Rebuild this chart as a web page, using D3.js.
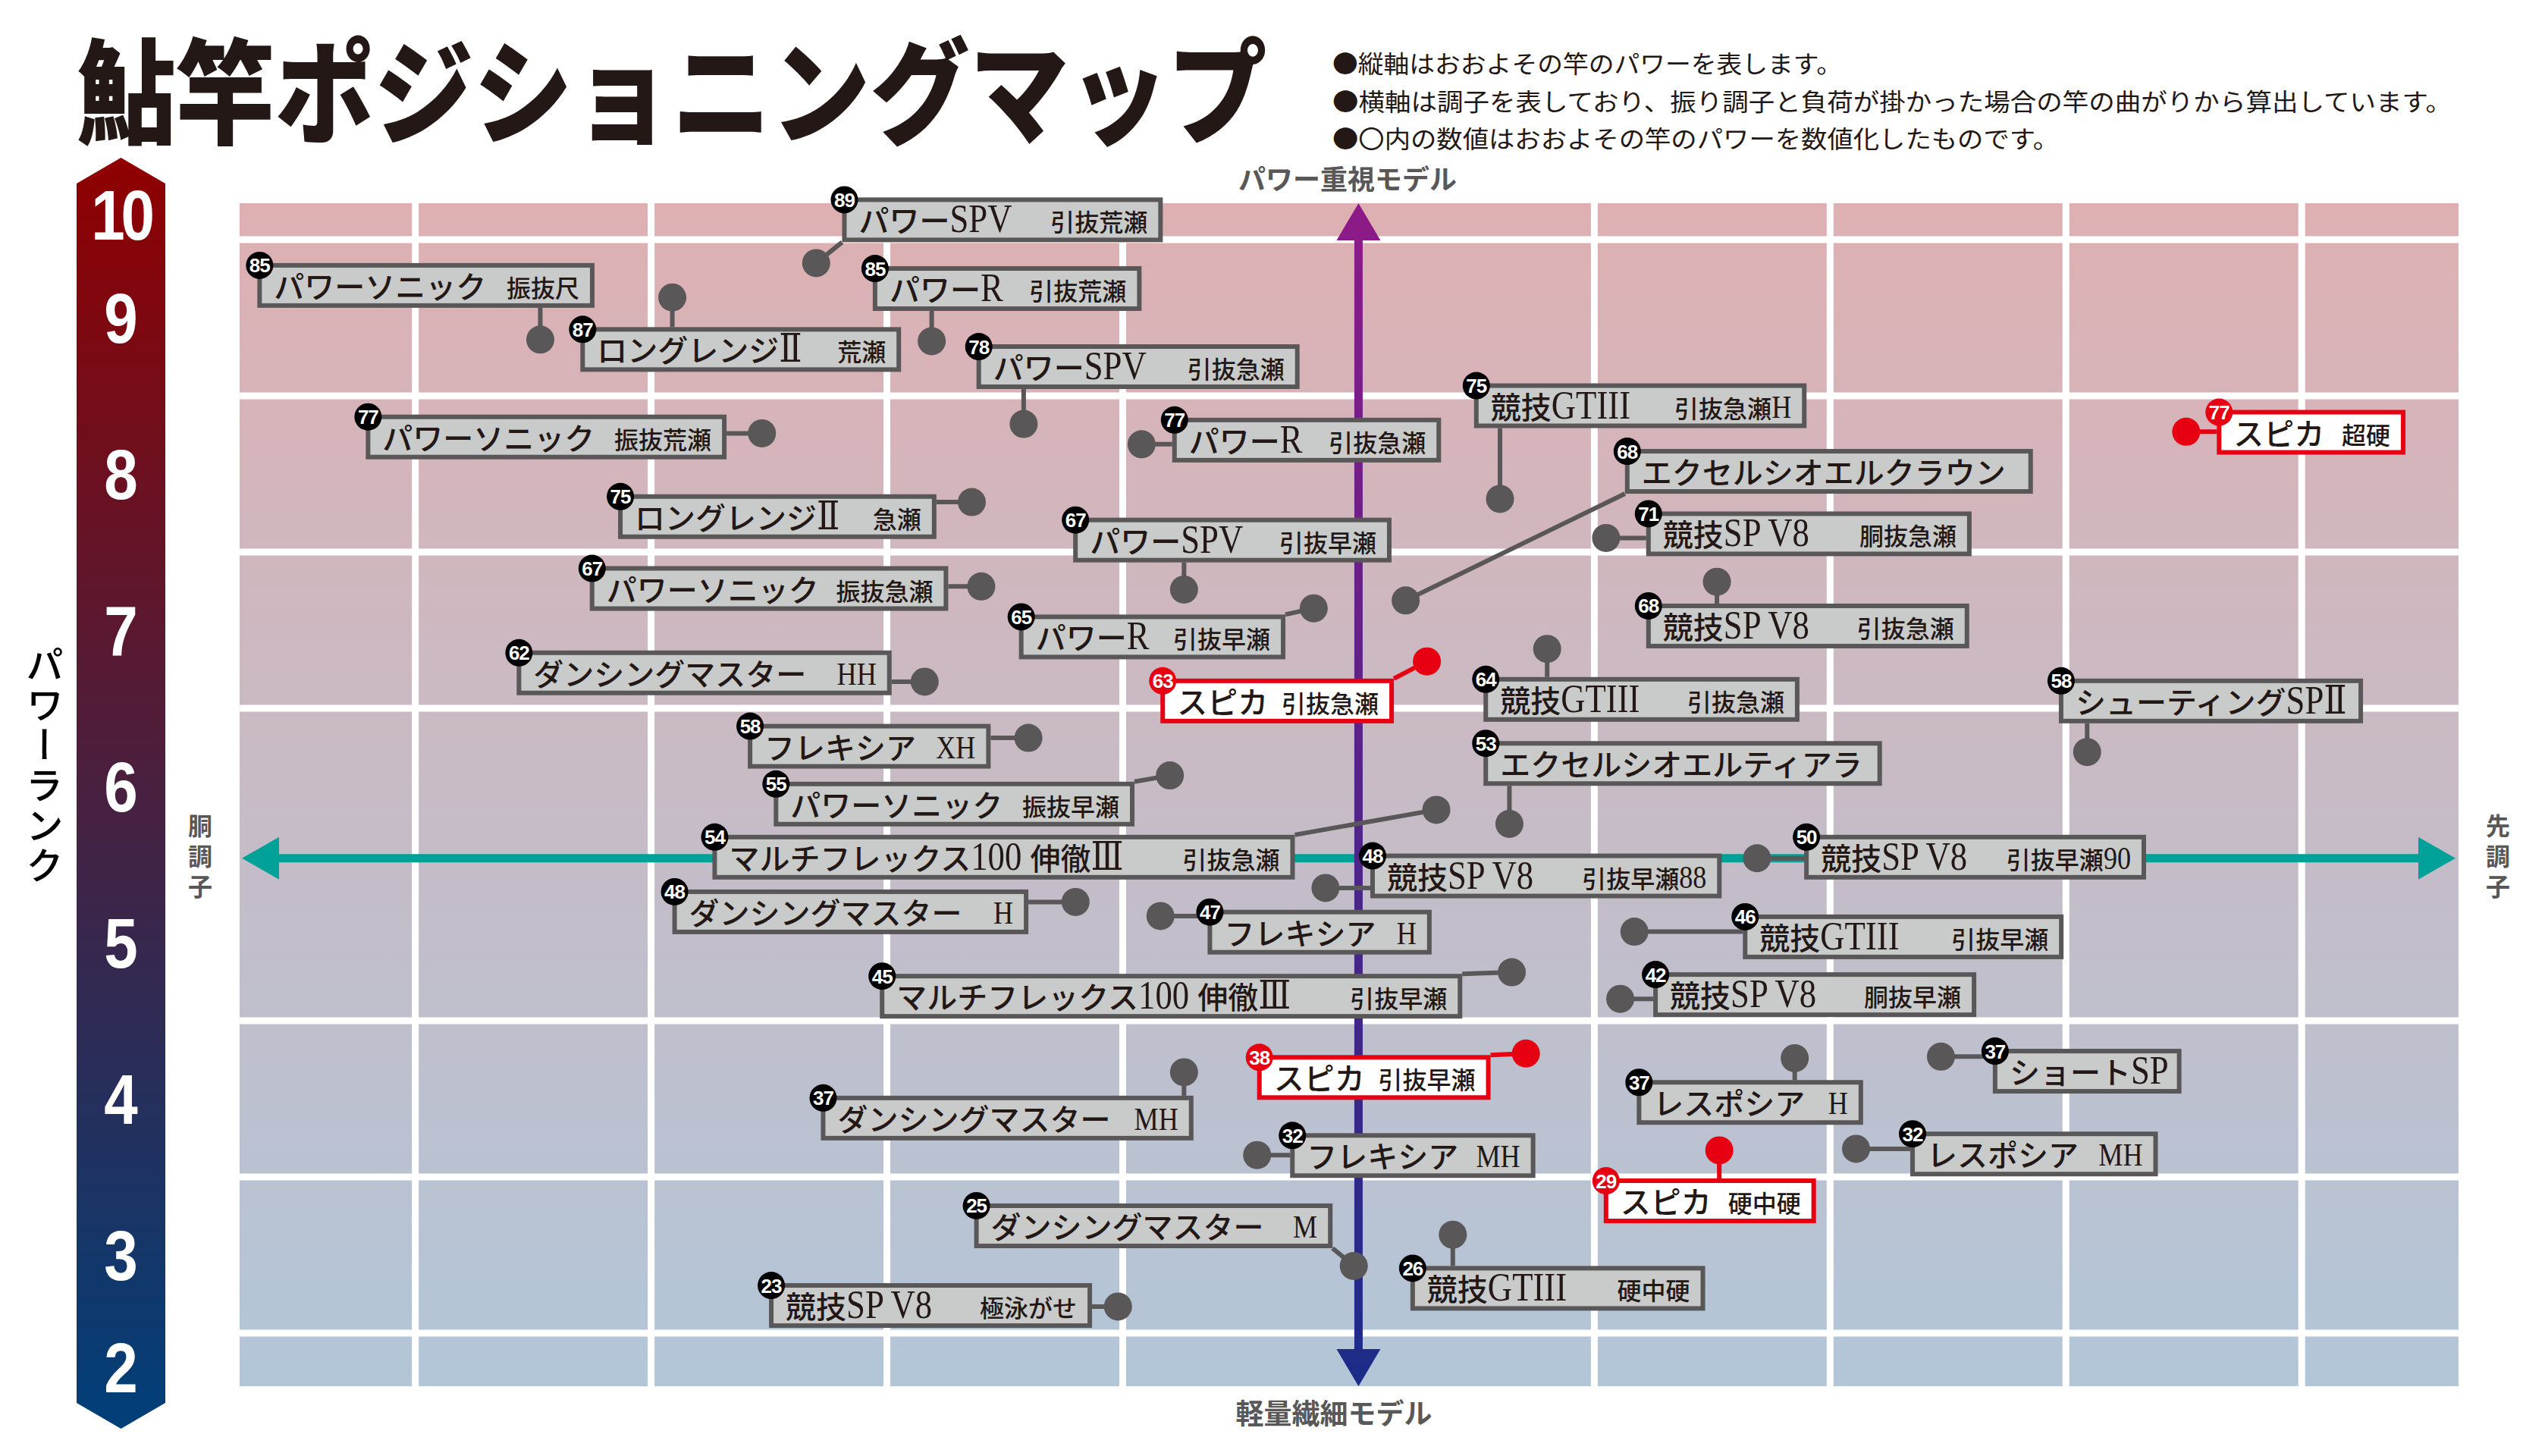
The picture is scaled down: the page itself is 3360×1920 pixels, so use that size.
<!DOCTYPE html>
<html><head><meta charset="utf-8">
<script src="https://cdn.jsdelivr.net/npm/d3@7"></script>
<style>body{margin:0;background:#fff;}svg{display:block;} text{white-space:pre;}</style>
</head><body>
<svg id="c" width="3360" height="1920"></svg>
<script>
// ---------------- DATA ----------------
const rodNames = ["パワーSPV","パワーソニック","ロングレンジⅡ","パワーR","パワーSPV","パワーソニック","パワーR","競技GTIII","スピカ","ロングレンジⅡ","エクセルシオエルクラウン","競技SP V8","パワーSPV","パワーソニック","競技SP V8","パワーR","ダンシングマスター","スピカ","競技GTIII","シューティングSPⅡ","フレキシア","パワーソニック","エクセルシオエルティアラ","マルチフレックス100 伸徹Ⅲ","競技SP V8","競技SP V8","ダンシングマスター","フレキシア","競技GTIII","マルチフレックス100 伸徹Ⅲ","競技SP V8","スピカ","ダンシングマスター","レスポシア","ショートSP","フレキシア","レスポシア","スピカ","ダンシングマスター","競技GTIII","競技SP V8"];
const rodTypes = ["引抜荒瀬","振抜尺","荒瀬","引抜荒瀬","引抜急瀬","振抜荒瀬","引抜急瀬","引抜急瀬H","超硬","急瀬","","胴抜急瀬","引抜早瀬","振抜急瀬","引抜急瀬","引抜早瀬","HH","引抜急瀬","引抜急瀬","","XH","振抜早瀬","","引抜急瀬","引抜早瀬88","引抜早瀬90","H","H","引抜早瀬","引抜早瀬","胴抜早瀬","引抜早瀬","MH","H","","MH","MH","硬中硬","M","硬中硬","極泳がせ"];
const powerIndex = [89,85,87,85,78,77,77,75,77,75,68,71,67,67,68,65,62,63,64,58,58,55,53,54,48,50,48,47,46,45,42,38,37,37,37,32,32,29,25,26,23];
// dot position: flex (胴調子 - / 先調子 +) and power
const flexPos = [-2.30,-3.47,-2.91,-1.81,-1.42,-2.53,-0.92,0.60,3.51,-1.64,0.20,1.05,-0.74,-1.60,1.52,-0.19,-1.84,0.29,0.80,3.09,-1.40,-0.80,0.64,0.33,-0.14,1.69,-1.20,-0.84,1.17,0.65,1.11,0.71,-0.74,1.85,2.47,-0.43,2.11,1.53,-0.02,0.40,-1.02];
const powerPos = [88.5,83.6,86.3,83.5,78.2,77.6,76.9,73.4,77.7,73.2,66.9,70.9,67.6,67.8,68.1,66.4,61.7,63.0,63.8,57.2,58.1,55.7,52.6,53.5,48.5,50.4,47.6,46.7,45.7,43.1,41.4,37.9,36.7,37.6,37.7,31.4,31.8,31.7,24.3,26.3,21.7];
// label anchors (data units)
const labelLeft = [-2.19,-4.67,-3.30,-2.06,-1.62,-4.21,-0.79,0.49,3.64,-3.14,1.13,1.22,-1.21,-3.26,1.22,-1.44,-3.57,-0.84,0.53,2.97,-2.59,-2.48,0.53,-2.74,0.05,1.89,-2.91,-0.64,1.63,-2.03,1.25,-0.43,-2.28,1.18,2.69,-0.29,2.34,1.04,-1.63,0.22,-2.50];
const labelRight = [-0.83,-3.24,-1.94,-0.92,-0.25,-2.68,0.35,1.90,4.44,-1.79,2.86,2.60,0.14,-1.74,2.59,-0.31,-1.98,0.15,1.87,4.26,-1.56,-0.95,2.22,-0.27,1.54,3.34,-1.40,0.31,2.99,0.44,2.62,0.56,-0.70,2.14,3.49,0.75,3.39,1.94,-0.11,1.47,-1.13];
const labelTop = [92.7,88.5,84.4,88.3,83.3,78.8,78.6,80.8,79.1,73.7,76.6,72.6,72.2,69.1,66.7,66.0,63.7,61.9,62.0,61.9,59.0,55.3,57.9,51.9,50.7,51.9,48.4,47.1,46.8,43.0,43.1,37.8,35.2,36.2,38.2,32.8,32.9,29.9,28.3,24.3,23.2];
const rankTicks = [10,9,8,7,6,5,4,3,2];
const powerGrid = [20,30,40,60,70,80,90];
const flexGrid = [-4,-3,-2,-1,1,2,3,4];
const notes = ["●縦軸はおおよその竿のパワーを表します。","●横軸は調子を表しており、振り調子と負荷が掛かった場合の竿の曲がりから算出しています。","●〇内の数値はおおよその竿のパワーを数値化したものです。"];
const titleText = "鮎竿ポジショニングマップ";

// ---------------- SETUP ----------------
const svg = d3.select("#c");
const PL = 316, PR = 3242, PT = 268, PB = 1828;
const x = d3.scaleLinear().domain([-4.745, 4.665]).range([PL, PR]);
const y = d3.scaleLinear().domain([16.6, 92.33]).range([PB, PT]);
const JP = "'Noto Sans CJK JP', sans-serif";
const SERIF = "'Liberation Serif', 'DejaVu Serif', serif";
const DARK = "#231815", GRAY = "#595757", RED = "#e60012";

const defs = svg.append("defs");
function lg(id, y1, y2, stops) {
  const g = defs.append("linearGradient").attr("id", id).attr("gradientUnits", "userSpaceOnUse")
    .attr("x1", 0).attr("x2", 0).attr("y1", y1).attr("y2", y2);
  stops.forEach(s => g.append("stop").attr("offset", s[0]).attr("stop-color", s[1]));
}
lg("bg", PT, PB, [[0, "#deb0b2"], [0.45, "#c9bac4"], [1, "#b2c6d8"]]);
lg("rank", 208, 1884, [[0, "#900000"], [0.5, "#482040"], [1, "#003f79"]]);
lg("purp", PT, PB, [[0, "#8e1a86"], [1, "#1c2c88"]]);

// title (condensed to 1570px wide)
const title = svg.append("text")
  .style("font-family", JP).style("font-weight", 900).style("font-size", "150px")
  .attr("fill", DARK).text(titleText);
const tw = title.node().getComputedTextLength();
title.attr("transform", `translate(101,178) scale(${1570 / tw},1)`);

// notes
const noteLens = [672, 1476, 958];
svg.selectAll("text.note").data(notes).join("text").attr("class", "note")
  .attr("x", 1757).attr("y", (d, i) => 96 + i * 49.5)
  .attr("textLength", (d, i) => noteLens[i]).attr("lengthAdjust", "spacingAndGlyphs")
  .style("font-family", JP).style("font-size", "32px").style("font-weight", 400)
  .attr("fill", DARK).text(d => d);

// plot background
svg.append("rect").attr("x", PL).attr("y", PT).attr("width", PR - PL).attr("height", PB - PT).attr("fill", "url(#bg)");
// grid
svg.selectAll("line.hg").data(powerGrid).join("line").attr("class", "hg")
  .attr("x1", PL).attr("x2", PR).attr("y1", d => y(d)).attr("y2", d => y(d))
  .attr("stroke", "#fff").attr("stroke-width", 9);
svg.selectAll("line.vg").data(flexGrid).join("line").attr("class", "vg")
  .attr("y1", PT).attr("y2", PB).attr("x1", d => x(d)).attr("x2", d => x(d))
  .attr("stroke", "#fff").attr("stroke-width", 9);

// rank bar
const bx0 = 101, bx1 = 218, bxm = (bx0 + bx1) / 2;
svg.append("path").attr("d", `M${bxm},208 L${bx1},242 L${bx1},1850 L${bxm},1884 L${bx0},1850 L${bx0},242 Z`).attr("fill", "url(#rank)");
svg.selectAll("text.rank").data(rankTicks).join("text").attr("class", "rank")
  .attr("transform", d => {
    const cy = Math.max(283, Math.min(1803, y((d - 0.5) * 10)));
    return `translate(${bxm},${cy + 33}) scale(0.86,1)`;
  })
  .attr("text-anchor", "middle").style("font-family", "'Liberation Sans', Arial, sans-serif")
  .style("font-weight", 700).style("font-size", "93px").attr("fill", "#fff")
  .attr("letter-spacing", d => d === 10 ? -6 : 0).text(d => d);

// vertical axis titles
function vtext(txt, cx, top, size, weight, color, spacing) {
  svg.append("text").attr("x", cx).attr("y", top)
    .style("writing-mode", "vertical-rl").style("font-family", JP)
    .style("font-size", size + "px").style("font-weight", weight)
    .style("letter-spacing", spacing + "px").attr("fill", color).text(txt);
}
vtext("パワーランク", 59, 851, 50, 500, "#000", 3);
vtext("胴調子", 264, 1073, 32, 700, GRAY, 8);
vtext("先調子", 3294, 1073, 32, 700, GRAY, 8);

svg.append("text").attr("x", 1777).attr("y", 250).attr("text-anchor", "middle")
  .style("font-family", JP).style("font-size", "36px").style("font-weight", 700).attr("fill", GRAY).text("パワー重視モデル");
svg.append("text").attr("x", 1759).attr("y", 1878).attr("text-anchor", "middle")
  .style("font-family", JP).style("font-size", "37px").style("font-weight", 700).attr("fill", GRAY).text("軽量繊細モデル");

// teal horizontal arrow (調子軸)
const ya = y(50.4), xl = x.range()[0] + 3, xr = x.range()[1] - 4;
svg.append("path").attr("fill", "#00a199").attr("d",
  `M${xl},${ya} L${xl + 49},${ya - 28} L${xl + 49},${ya - 5.5} L${xr - 49},${ya - 5.5} L${xr - 49},${ya - 28} L${xr},${ya} L${xr - 49},${ya + 28} L${xr - 49},${ya + 5.5} L${xl + 49},${ya + 5.5} L${xl + 49},${ya + 28} Z`);
// purple vertical arrow (パワー軸)
const xa = x(0), yt = PT, yb = PB;
svg.append("path").attr("fill", "url(#purp)").attr("d",
  `M${xa},${yt} L${xa + 29},${yt + 49} L${xa + 5.5},${yt + 49} L${xa + 5.5},${yb - 49} L${xa + 29},${yb - 49} L${xa},${yb} L${xa - 29},${yb - 49} L${xa - 5.5},${yb - 49} L${xa - 5.5},${yt + 49} L${xa - 29},${yt + 49} Z`);

// ---------------- LABELS ----------------
const LATIN = /^[A-Za-z0-9ⅡⅢ ]+$/;
function drawRuns(g, str, x0, base, cjkSize, latSize, sx, alignEnd) {
  const parts = str.match(/[A-Za-z0-9ⅡⅢ ]+|[^A-Za-z0-9ⅡⅢ ]+/g) || [];
  const nodes = parts.map(p => {
    const lat = LATIN.test(p);
    const t = g.append("text").attr("fill", DARK)
      .style("font-family", lat ? SERIF : JP)
      .style("font-size", (lat ? latSize : cjkSize) + "px")
      .style("font-weight", lat ? 400 : 500).text(p);
    const w = t.node().getComputedTextLength() * (lat ? sx : 1);
    return { t, lat, w };
  });
  const total = d3.sum(nodes, n => n.w);
  let cx = alignEnd ? x0 - total : x0;
  nodes.forEach(n => {
    n.t.attr("transform", `translate(${cx},${base}) scale(${n.lat ? sx : 1},1)`);
    cx += n.w;
  });
}

const BOXH = 59;
const items = rodNames.map((n, i) => {
  const L = x(labelLeft[i]), R = x(labelRight[i]), T = y(labelTop[i]);
  const px = x(flexPos[i]), py = y(powerPos[i]);
  return { name: n, type: rodTypes[i], power: powerIndex[i], L, R, T, B: T + BOXH, px, py, red: n === "スピカ" };
});

const gC = svg.append("g"), gD = svg.append("g"), gB = svg.append("g");
items.forEach(d => {
  const cx = Math.max(d.L, Math.min(d.px, d.R));
  const cy = Math.max(d.T, Math.min(d.py, d.B));
  gC.append("line").attr("x1", d.px).attr("y1", d.py).attr("x2", cx).attr("y2", cy)
    .attr("stroke", d.red ? RED : GRAY).attr("stroke-width", 6);
  gD.append("circle").attr("cx", d.px).attr("cy", d.py).attr("r", 18.5).attr("fill", d.red ? RED : GRAY);

  const g = gB.append("g");
  g.append("rect").attr("x", d.L + 3).attr("y", d.T + 3).attr("width", d.R - d.L - 6).attr("height", BOXH - 6)
    .attr("fill", d.red ? "#fff" : "#c9caca").attr("stroke", d.red ? RED : GRAY).attr("stroke-width", 6);
  drawRuns(g, d.name, d.L + 22, d.T + 46, 40, 52, 0.86, false);
  if (d.type) drawRuns(g, d.type, d.R - 20, d.T + 45, 32, 42, 0.86, true);
  g.append("circle").attr("cx", d.L + 3).attr("cy", d.T + 3).attr("r", 18).attr("fill", d.red ? RED : "#000");
  g.append("text").attr("x", d.L + 3).attr("y", d.T + 12.5).attr("text-anchor", "middle")
    .style("font-family", "'Liberation Sans', Arial, sans-serif").style("font-weight", 700)
    .style("font-size", "26px").attr("letter-spacing", -1).attr("fill", "#fff").text(d.power);
});
</script>
</body></html>
